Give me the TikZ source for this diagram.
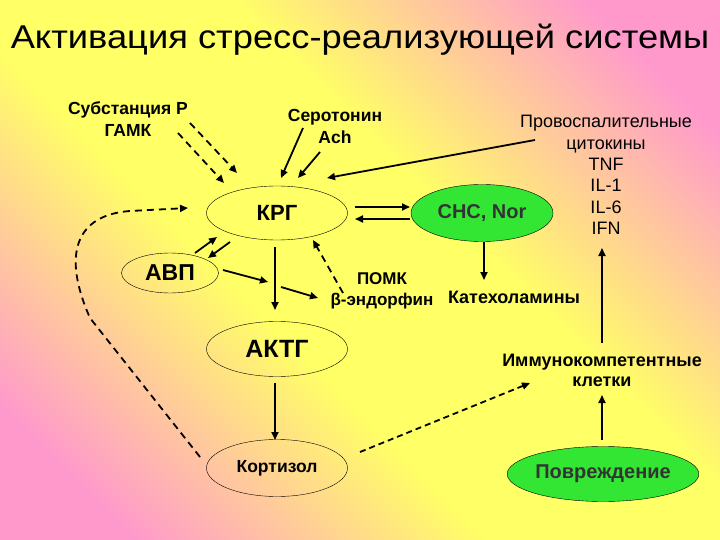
\documentclass[tikz,border=0pt]{standalone}
\usepackage{fontspec}
\setmainfont{Liberation Sans}
\usetikzlibrary{shapes.geometric,arrows.meta,positioning}
\definecolor{bgyellow}{HTML}{FFFF66}
\definecolor{bgpink}{HTML}{FF99CC}
\definecolor{cellgreen}{HTML}{33E633}
\pgfdeclarehorizontalshading{slidebg}{100bp}{color(0bp)=(bgpink); color(22bp)=(bgpink); color(42bp)=(bgyellow); color(58bp)=(bgyellow); color(78bp)=(bgpink); color(100bp)=(bgpink)}
\begin{document}
\begin{tikzpicture}[x=1pt,y=-1pt,
  oval/.style={ellipse,draw,thin,inner sep=0pt,minimum width=141pt,minimum height=55pt},
  greenoval/.style={oval,fill=cellgreen,text=black!80},
  arr/.style={-{Triangle[length=8pt,width=7pt]},line width=1.8pt},
  dasharr/.style={arr,dash pattern=on 7pt off 5pt},
  lbl/.style={font=\bfseries\fontsize{17.5}{22}\selectfont,align=center}]
\shade[shading=slidebg,shading angle=45] (0,0) rectangle (720,540);
\useasboundingbox (0,0) rectangle (720,540);

% labels
\node[font=\fontsize{33}{38}\selectfont] (title) at (360,40) {\scalebox{1.1}[1]{Активация стресс-реализующей системы}};
\node[lbl] (subst) at (128,119) {Субстанция P\\ГАМК};
\node[lbl] (sero) at (335,126) {Серотонин\\Ach};
\node[font=\fontsize{18}{21.3}\selectfont,align=center] (cyto) at (606,175) {Провоспалительные\\цитокины\\TNF\\IL-1\\IL-6\\IFN};
\node[lbl,font=\bfseries\fontsize{17}{21}\selectfont] (pomk) at (382,291) {ПОМК\\β-эндорфин};
\node[lbl,font=\bfseries\fontsize{18}{22}\selectfont] (kat) at (514,297) {Катехоламины};
\node[lbl,font=\bfseries\fontsize{18}{20}\selectfont] (imm) at (602,370) {Иммунокомпетентные\\клетки};

% ovals
\node[oval,minimum height=54pt,font=\bfseries\fontsize{22}{26}\selectfont] (krg) at (277,213) {КРГ};
\node[oval,minimum width=97pt,minimum height=40pt,font=\bfseries\fontsize{23}{26}\selectfont] (avp) at (170,273) {АВП};
\node[greenoval,minimum width=142pt,minimum height=57pt,font=\bfseries\fontsize{20}{22}\selectfont] (sns) at (482,213) {СНС, Nor};
\node[oval,font=\bfseries\fontsize{25}{28}\selectfont] (aktg) at (277,349) {АКТГ};
\node[oval,minimum height=57pt,font=\bfseries\fontsize{17.5}{20}\selectfont] (kort) at (277,468) {Кортизол};
\node[greenoval,minimum width=170pt,font=\bfseries\fontsize{20}{22}\selectfont] (povr) at (603,474) {Повреждение};
\coordinate (axis) at (275,285);

% connectors
\draw[dasharr] ([shift={(62,4)}]subst.center) -- ([shift={(-40,-40)}]krg.center);
\draw[dasharr] ([shift={(50,14)}]subst.center) -- ([shift={(-53,-30)}]krg.center);
\draw[arr] ([shift={(-32,2)}]sero.center) -- ([shift={(4,-35)}]krg.center);
\draw[arr] ([shift={(-15,26)}]sero.center) -- ([shift={(21,-35)}]krg.center);
\draw[arr] ([shift={(-71,-35)}]cyto.center) -- ([shift={(50,-35)}]krg.center);
\draw[arr] ([shift={(78,-6)}]krg.center) -- ([shift={(-72,-6)}]sns.center);
\draw[arr] ([shift={(-72,6)}]sns.center) -- ([shift={(78,6)}]krg.center);
\draw[arr] ([shift={(25,-20)}]avp.center) -- ([shift={(-60,24)}]krg.center);
\draw[arr] ([shift={(-47,29)}]krg.center) -- ([shift={(38,-15)}]avp.center);
\draw[arr] ([shift={(53,-3)}]avp.center) -- ([shift={(-7,-3)}]axis);
\draw[arr] ([shift={(6,2)}]axis) -- ([shift={(-64,7)}]pomk.center);
\draw[arr] ([shift={(-2,34)}]krg.center) -- ([shift={(-2,-39)}]aktg.center);
\draw[arr] ([shift={(-2,34)}]aktg.center) -- ([shift={(-2,-28)}]kort.center);
\draw[dasharr] ([shift={(-39,2)}]pomk.center) -- ([shift={(36,27)}]krg.center);
\draw[arr] ([shift={(2,29)}]sns.center) -- ([shift={(-30,-17)}]kat.center);
\draw[dasharr] ([shift={(-77,-11)}]kort.center) -- (90,318)
  .. controls (62,255) and (75,215) .. (130,211) -- ([shift={(-89,-5)}]krg.center);
\draw[dasharr,dash pattern=on 6pt off 4pt] ([shift={(83,-16)}]kort.center) -- ([shift={(-72,13)}]imm.center);
\draw[arr] ([shift={(0,-27)}]imm.center) -- ([shift={(-4,73)}]cyto.center);
\draw[arr] ([shift={(-1,-34)}]povr.center) -- ([shift={(0,25)}]imm.center);
\end{tikzpicture}
\end{document}
